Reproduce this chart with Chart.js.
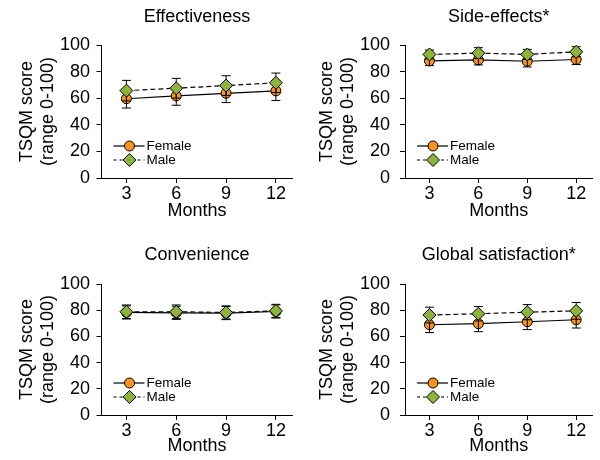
<!DOCTYPE html>
<html lang="en">
<head>
  <meta charset="UTF-8" />
  <title>TSQM scores by sex</title>
  <script src="https://cdn.jsdelivr.net/npm/chart.js"></script>
  <style>
    body { margin: 0; background: #fff; }
    #wrap { position: relative; width: 600px; height: 460px; }
    canvas { position: absolute; }
  </style>
</head>
<body>
  <div id="wrap">
    <canvas id="c1" width="300" height="230" style="left:0;top:0"></canvas>
    <canvas id="c2" width="300" height="230" style="left:300px;top:0"></canvas>
    <canvas id="c3" width="300" height="230" style="left:0;top:230px"></canvas>
    <canvas id="c4" width="300" height="230" style="left:300px;top:230px"></canvas>
  </div>

  <script>
    // data (mean and error)
    const months = [3, 6, 9, 12];
    const yTicks = [0, 20, 40, 60, 80, 100];
    const seriesNames = ["Female", "Male"];
    const panelTitles = ["Effectiveness", "Side-effects*", "Convenience", "Global satisfaction*"];

    const effFemale = [59.6, 61.7, 63.7, 65.5];
    const effFemaleErr = [7.0, 7.0, 7.0, 7.2];
    const effMale = [65.7, 67.5, 69.5, 71.6];
    const effMaleErr = [7.7, 7.4, 7.4, 7.3];

    const sideFemale = [88.1, 88.8, 87.8, 89.1];
    const sideFemaleErr = [3.6, 3.8, 4.3, 3.8];
    const sideMale = [92.9, 93.9, 92.9, 94.9];
    const sideMaleErr = [3.3, 4.1, 3.8, 3.8];

    const convFemale = [78.3, 78.0, 77.8, 79.0];
    const convFemaleErr = [5.0, 5.0, 5.0, 5.0];
    const convMale = [78.8, 78.8, 78.3, 79.5];
    const convMaleErr = [5.2, 5.2, 5.0, 5.0];

    const globFemale = [68.9, 69.7, 71.2, 72.7];
    const globFemaleErr = [6.0, 6.1, 6.0, 6.3];
    const globMale = [76.3, 77.3, 78.5, 79.5];
    const globMaleErr = [6.0, 5.5, 5.8, 6.4];

    const FONT = "'Liberation Sans', Arial, Helvetica, sans-serif";
    const ORANGE = "#f7941d";
    const GREEN = "#8cb33a";

    // panel geometry inside each 300x230 canvas
    const layouts = [
      { left: 101.5, right: 292.5, top: 45, bottom: 178, titleTop: 6, xTitleBottom: 8, tickPad: 6.5 },
      { left: 105, right: 295, top: 45, bottom: 178, titleTop: 6, xTitleBottom: 8, tickPad: 10 },
      { left: 101.5, right: 292.5, top: 54, bottom: 185, titleTop: 14, xTitleBottom: 3, tickPad: 6.5 },
      { left: 105, right: 295, top: 54, bottom: 185, titleTop: 14, xTitleBottom: 3, tickPad: 10 }
    ];

    function toPoints(vals) {
      return months.map((m, i) => ({ x: m, y: vals[i] }));
    }

    function drawBars(chart, idx) {
      const ds = chart.data.datasets[idx];
      const meta = chart.getDatasetMeta(idx);
      const ys = chart.scales.y;
      const c = chart.ctx;
      c.save();
      c.strokeStyle = "#000";
      c.lineWidth = 1;
      c.setLineDash([]);
      meta.data.forEach((pt, i) => {
        const v = ds.data[i].y, e = ds.err[i];
        const yTop = ys.getPixelForValue(v + e);
        const yBot = ys.getPixelForValue(v - e);
        c.beginPath();
        c.moveTo(pt.x, yTop); c.lineTo(pt.x, yBot);
        c.moveTo(pt.x - 4.5, yTop); c.lineTo(pt.x + 4.5, yTop);
        c.moveTo(pt.x - 4.5, yBot); c.lineTo(pt.x + 4.5, yBot);
        c.stroke();
      });
      c.restore();
    }

    const errorBars = {
      id: "errorBars",
      beforeDatasetDraw(chart, args) {
        if (args.index === 1) drawBars(chart, 1);
      },
      afterDatasetDraw(chart, args) {
        if (args.index === 0) drawBars(chart, 0);
      }
    };

    function marker(c, type, x, y) {
      c.beginPath();
      if (type === "circle") {
        c.arc(x, y, 5, 0, Math.PI * 2);
      } else {
        c.moveTo(x - 6.5, y); c.lineTo(x, y - 6.5);
        c.lineTo(x + 6.5, y); c.lineTo(x, y + 6.5);
        c.closePath();
      }
      c.fillStyle = type === "circle" ? ORANGE : GREEN;
      c.fill();
      c.lineWidth = 1;
      c.strokeStyle = "#000";
      c.stroke();
    }

    const innerLegend = {
      id: "innerLegend",
      afterDraw(chart) {
        const c = chart.ctx;
        const a = chart.chartArea;
        const rows = [
          { y: a.bottom - 32, dash: [], type: "circle" },
          { y: a.bottom - 18, dash: [3, 3], type: "rectRot" }
        ];
        c.save();
        rows.forEach((r, i) => {
          c.beginPath();
          c.setLineDash(r.dash);
          c.strokeStyle = "#000";
          c.lineWidth = 1.2;
          c.moveTo(a.left + 12, r.y);
          c.lineTo(a.left + 43, r.y);
          c.stroke();
          c.setLineDash([]);
          marker(c, r.type, a.left + 28, r.y);
          c.fillStyle = "#000";
          c.font = "13.5px " + FONT;
          c.textBaseline = "middle";
          c.textAlign = "left";
          c.fillText(seriesNames[i], a.left + 45, r.y + 0.5);
        });
        c.restore();
      }
    };

    function makePanel(id, n, female, femaleErr, male, maleErr) {
      const L = layouts[n];
      new Chart(document.getElementById(id), {
        type: "line",
        data: {
          datasets: [
            {
              label: seriesNames[0], data: toPoints(female), err: femaleErr, order: 2,
              borderColor: "#000", borderWidth: 1.2, backgroundColor: ORANGE,
              pointStyle: "circle", pointRadius: 5, pointBorderWidth: 1,
              pointBorderColor: "#000", pointBackgroundColor: ORANGE
            },
            {
              label: seriesNames[1], data: toPoints(male), err: maleErr, order: 1,
              borderColor: "#000", borderWidth: 1.2, borderDash: [5, 3], backgroundColor: GREEN,
              pointStyle: "rectRot", pointRadius: 6.5, pointBorderWidth: 1,
              pointBorderColor: "#000", pointBackgroundColor: GREEN
            }
          ]
        },
        options: {
          responsive: false,
          animation: false,
          devicePixelRatio: 1,
          layout: { padding: { left: 0, top: 0, bottom: 0, right: 300 - L.right } },
          plugins: {
            legend: { display: false },
            tooltip: { enabled: false },
            title: {
              display: true, text: panelTitles[n], color: "#000", fullSize: false,
              font: { family: FONT, size: 18, weight: "normal", lineHeight: 1.2 },
              padding: { top: L.titleTop, bottom: L.top - L.titleTop - 21.6 }
            }
          },
          scales: {
            x: {
              type: "linear", min: 1.5, max: 13,
              afterBuildTicks: s => { s.ticks = months.map(v => ({ value: v })); },
              afterFit: s => { s.height = 230 - L.bottom; },
              grid: { drawOnChartArea: false, drawTicks: true, tickLength: 5, color: "#000" },
              border: { display: true, color: "#000", width: 1 },
              ticks: { color: "#000", padding: 0, font: { family: FONT, size: 18 } },
              title: {
                display: true, text: "Months", color: "#000",
                font: { family: FONT, size: 18, lineHeight: 1.2 },
                padding: { top: 0, bottom: L.xTitleBottom }
              }
            },
            y: {
              min: 0, max: 100,
              afterBuildTicks: s => { s.ticks = yTicks.map(v => ({ value: v })); },
              afterFit: s => { s.width = L.left; },
              grid: { drawOnChartArea: false, drawTicks: true, tickLength: 5, color: "#000" },
              border: { display: true, color: "#000", width: 1 },
              ticks: { color: "#000", padding: L.tickPad, font: { family: FONT, size: 18 } },
              title: {
                display: true, text: ["TSQM score", "(range 0-100)"], color: "#000",
                font: { family: FONT, size: 18, lineHeight: 1.2 },
                padding: { top: 16, bottom: 0 }
              }
            }
          }
        },
        plugins: [errorBars, innerLegend]
      });
    }

    makePanel("c1", 0, effFemale, effFemaleErr, effMale, effMaleErr);
    makePanel("c2", 1, sideFemale, sideFemaleErr, sideMale, sideMaleErr);
    makePanel("c3", 2, convFemale, convFemaleErr, convMale, convMaleErr);
    makePanel("c4", 3, globFemale, globFemaleErr, globMale, globMaleErr);
  </script>
</body>
</html>
